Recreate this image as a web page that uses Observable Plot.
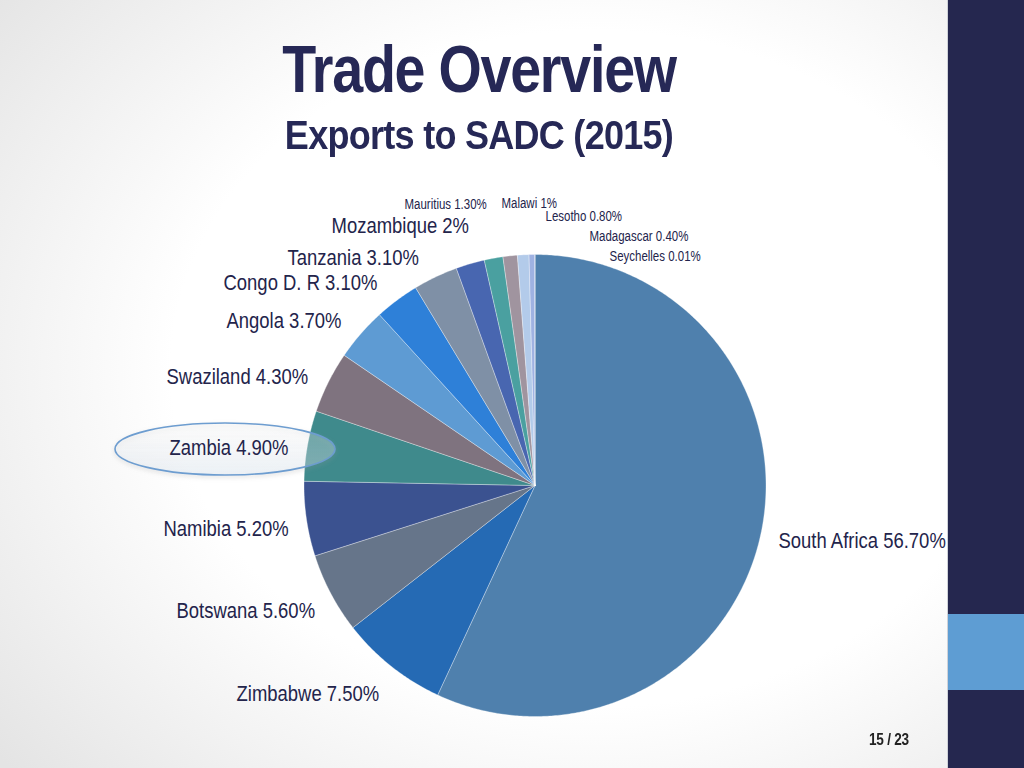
<!DOCTYPE html>
<html>
<head>
<meta charset="utf-8">
<script src="https://cdn.jsdelivr.net/npm/d3@7"></script>
<script src="https://cdn.jsdelivr.net/npm/@observablehq/plot@0.6"></script>
<style>
  html, body { margin: 0; padding: 0; }
  body {
    width: 1024px; height: 768px; overflow: hidden; position: relative;
    background: radial-gradient(ellipse 75% 80% at 58% 48%, #ffffff 55%, #e4e4e4 100%);
    font-family: "Liberation Sans Narrow", "Arial Narrow", "Liberation Sans", sans-serif;
  }
  #title { position: absolute; left: 0; width: 958px; top: 34px; text-align: center;
    font-weight: bold; font-size: 67px; color: #262856; letter-spacing: -1.5px; line-height: 70px;
    transform: scaleX(0.83); transform-origin: 479px 0; }
  #subtitle { position: absolute; left: 0; width: 958px; top: 114px; text-align: center;
    font-weight: bold; font-size: 40px; color: #262856; letter-spacing: -0.8px; line-height: 42px;
    transform: scaleX(0.9); transform-origin: 479px 0; }
  #bar { position: absolute; left: 947px; top: 0; width: 77px; height: 768px; background: #25274f; border-left: 1px solid #cfd2d8; }
  #bar2 { position: absolute; left: 948px; top: 614px; width: 76px; height: 76px; background: #5e9dd3; }
  #page { position: absolute; left: 869px; top: 731px; font-weight: bold; font-size: 16px; color: #222;
    letter-spacing: -0.3px; transform: scaleX(0.85); transform-origin: 0 0; }
  #chart { position: absolute; left: 0; top: 170px; }
</style>
</head>
<body>
<div id="title">Trade Overview</div>
<div id="subtitle">Exports to SADC (2015)</div>
<div id="bar"></div>
<div id="bar2"></div>
<div id="page">15 / 23</div>
<div id="chart"></div>
<script>
// ---- data ----
const countries = ["South Africa","Zimbabwe","Botswana","Namibia","Zambia","Swaziland","Angola","Congo D. R","Tanzania","Mozambique","Mauritius","Malawi","Lesotho","Madagascar","Seychelles"];
const shares = [56.7, 7.5, 5.6, 5.2, 4.9, 4.3, 3.7, 3.1, 3.1, 2, 1.3, 1, 0.8, 0.4, 0.01];

// ---- styles / layout ----
const palette = ["#4f80ad","#256ab4","#66758a","#3b5290","#3f8a8c","#7f737f","#5e9bd3","#2e80d8","#7f90a6","#4866b0","#4aa0a0","#a0949f","#b3cbea","#9fb2e2","#8fa5d8"];
const pie = {cx: 534.5, cy: 485, r: 231};
// label anchors (left x, middle y) in page pixels, and font size
const labelLayout = {
  "South Africa": [778, 540, 22], "Zimbabwe": [236, 693, 22], "Botswana": [176, 610, 22],
  "Namibia": [163, 528, 22], "Zambia": [169, 447, 22], "Swaziland": [166, 376, 22],
  "Angola": [226, 320, 22], "Congo D. R": [223, 282, 22], "Tanzania": [287, 257, 22],
  "Mozambique": [331, 225, 22], "Mauritius": [404, 204, 14], "Malawi": [501, 203, 14],
  "Lesotho": [545, 216, 14], "Madagascar": [589, 236, 14], "Seychelles": [609, 256, 14]
};
const condense = size => size > 18 ? 0.84 : 0.82;

const data = countries.map((name, i) => ({name, share: shares[i]}));
const arcs = d3.pie().sort(null).value(d => d.share)(data);

// polygon vertices of each slice, derived from the pie angles
const slicePts = [];
for (const a of arcs) {
  const n = Math.max(2, Math.ceil((a.endAngle - a.startAngle) / (Math.PI / 360)));
  slicePts.push({name: a.data.name, x: pie.cx, y: pie.cy});
  for (let k = 0; k <= n; k++) {
    const t = a.startAngle + (a.endAngle - a.startAngle) * k / n;
    slicePts.push({name: a.data.name, x: pie.cx + pie.r * Math.sin(t), y: pie.cy - pie.r * Math.cos(t)});
  }
  slicePts.push({name: a.data.name, x: pie.cx, y: pie.cy});
}

const fmt = v => Number.isInteger(v) ? `${v}%` : `${v.toFixed(2)}%`;
const labels = data.map(d => ({
  text: `${d.name} ${fmt(d.share)}`,
  x: labelLayout[d.name][0], y: labelLayout[d.name][1], size: labelLayout[d.name][2]
}));

// highlight ellipse around Zambia label
const highlight = (index, scales) => {
  const g = d3.create("svg:g");
  const defs = g.append("defs");
  const lg = defs.append("linearGradient").attr("id", "hl").attr("x1", 0).attr("y1", 0).attr("x2", 0).attr("y2", 1);
  lg.append("stop").attr("offset", "0%").attr("stop-color", "#ffffff").attr("stop-opacity", 0.2);
  lg.append("stop").attr("offset", "100%").attr("stop-color", "#dce8f5").attr("stop-opacity", 0.35);
  const f = defs.append("filter").attr("id", "sh").attr("x", "-20%").attr("y", "-50%").attr("width", "140%").attr("height", "200%");
  f.append("feDropShadow").attr("dx", 0).attr("dy", 2).attr("stdDeviation", 2).attr("flood-color", "#999").attr("flood-opacity", 0.35);
  g.append("ellipse")
    .attr("cx", scales.x(225)).attr("cy", scales.y(449))
    .attr("rx", 110).attr("ry", 26)
    .attr("fill", "url(#hl)").attr("stroke", "#6d9dd0").attr("stroke-width", 1.6)
    .attr("filter", "url(#sh)");
  return g.node();
};

const chart = Plot.plot({
  width: 948, height: 598, margin: 0,
  style: {background: "transparent", overflow: "visible"},
  x: {type: "linear", domain: [0, 948], range: [0, 948], axis: null},
  y: {type: "linear", domain: [170, 768], range: [0, 598], axis: null},
  color: {type: "ordinal", domain: countries, range: palette},
  marks: [
    Plot.line(slicePts, {x: "x", y: "y", z: "name", fill: "name", stroke: "#ffffff", strokeWidth: 0.6, strokeOpacity: 0.55, curve: "linear-closed"}),
    highlight,
    Plot.text(labels, {x: "x", y: "y", text: "text", fontSize: "size", textAnchor: "start", lineAnchor: "middle",
      fill: "#23244b", fontFamily: "Liberation Sans Narrow, Arial Narrow, Liberation Sans, sans-serif"})
  ]
});

// condense label glyphs horizontally (no narrow face installed)
chart.querySelectorAll("text").forEach(t => {
  const fs = parseFloat(t.getAttribute("font-size") || (t.parentNode && t.parentNode.getAttribute && t.parentNode.getAttribute("font-size")) || 22);
  const k = condense(fs);
  const tr = t.getAttribute("transform");
  if (tr) {
    t.setAttribute("transform", `${tr} scale(${k},1)`);
  } else if (t.hasAttribute("x")) {
    const x = t.getAttribute("x"), y = t.getAttribute("y") || 0;
    t.removeAttribute("x"); t.removeAttribute("y");
    t.setAttribute("transform", `translate(${x},${y}) scale(${k},1)`);
  }
});
document.getElementById("chart").appendChild(chart);
</script>
</body>
</html>
